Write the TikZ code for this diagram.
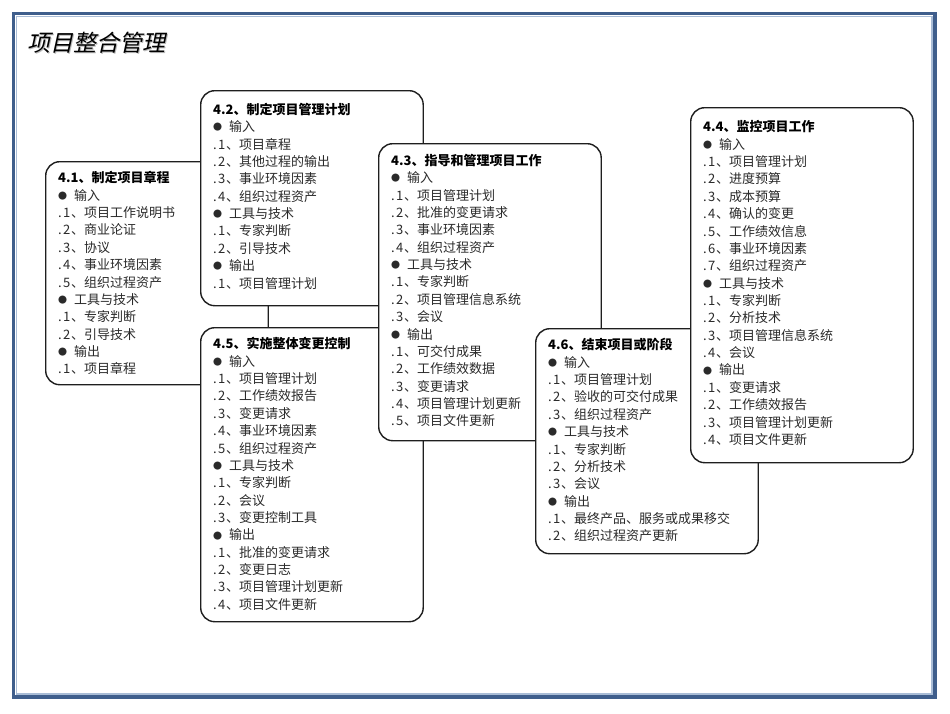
\documentclass[tikz,border=0pt]{standalone}
\usepackage{fontspec}
\newfontfamily\cjk{Noto Sans CJK SC}
\newfontfamily\cjkslant[FakeSlant=0.22]{Noto Sans CJK SC}
\usetikzlibrary{calc}
\definecolor{frameDark}{HTML}{3F5E8C}
\definecolor{frameLight}{HTML}{A9BCD6}
\definecolor{boxLine}{HTML}{1E1E1E}
\definecolor{itemText}{HTML}{2A2A2A}
\tikzset{
  pbox/.style={draw=boxLine, line width=1.4pt, fill=white, rounded corners=14pt,
    inner sep=0pt, minimum width=222.5pt, anchor=north west},
  ptext/.style={anchor=base west, inner sep=0pt, font=\cjk\fontsize{13}{15}\selectfont, text=itemText},
  maintitle/.style={anchor=west, inner sep=0pt, font=\cjkslant\fontsize{23}{25}\selectfont},
}
\newcommand\bul[1]{\makebox[16pt][l]{\raisebox{0.8pt}{\fontsize{9}{9}\selectfont ●}}#1}
\newcommand\itm[2]{\makebox[5pt][l]{.}\makebox[8pt][l]{#1}、#2}
\newcommand\ttl[1]{\textbf{\color{black}#1}}
\newcommand\pbx[6]{%
  \node[pbox, minimum height=#4] (#1) at (#2,#3) {};
  \foreach \ln [count=\k] in {#6}{
    \node[ptext] (#1-\k) at ($(#1.north west)+(13,{#5+4.8+(\k-1)*17.37})$) {\ln};
  }%
}
\begin{document}
\begin{tikzpicture}[x=1pt,y=-1pt]
\useasboundingbox (0,0) rectangle (950,713);
\fill[white] (0,0) rectangle (950,713);
% frame
\draw[frameDark, line width=3.2pt] (13.8,13.8) rectangle (935,697);
\draw[frameLight, line width=1.5pt] (16.6,16.6) rectangle (932.2,694.2);
% main title
\node[maintitle, text=gray!55] (titleshadow) at (28.6,44) {项目整合管理};
\node[maintitle] (title) at (27,42.5) {项目整合管理};
% boxes
\pbx{p41}{45}{161}{223}{17}{%
  {\ttl{4.1、制定项目章程}},{\bul{输入}},{\itm{1}{项目工作说明书}},{\itm{2}{商业论证}},{\itm{3}{协议}},
  {\itm{4}{事业环境因素}},{\itm{5}{组织过程资产}},{\bul{工具与技术}},{\itm{1}{专家判断}},{\itm{2}{引导技术}},
  {\bul{输出}},{\itm{1}{项目章程}}}
\pbx{p42}{200}{90}{215}{19.5}{%
  {\ttl{4.2、制定项目管理计划}},{\bul{输入}},{\itm{1}{项目章程}},{\itm{2}{其他过程的输出}},{\itm{3}{事业环境因素}},
  {\itm{4}{组织过程资产}},{\bul{工具与技术}},{\itm{1}{专家判断}},{\itm{2}{引导技术}},{\bul{输出}},{\itm{1}{项目管理计划}}}
\pbx{p45}{200}{327}{294}{17}{%
  {\ttl{4.5、实施整体变更控制}},{\bul{输入}},{\itm{1}{项目管理计划}},{\itm{2}{工作绩效报告}},{\itm{3}{变更请求}},
  {\itm{4}{事业环境因素}},{\itm{5}{组织过程资产}},{\bul{工具与技术}},{\itm{1}{专家判断}},{\itm{2}{会议}},
  {\itm{3}{变更控制工具}},{\bul{输出}},{\itm{1}{批准的变更请求}},{\itm{2}{变更日志}},{\itm{3}{项目管理计划更新}},
  {\itm{4}{项目文件更新}}}
\pbx{p43}{378}{143}{297}{17.5}{%
  {\ttl{4.3、指导和管理项目工作}},{\bul{输入}},{\itm{1}{项目管理计划}},{\itm{2}{批准的变更请求}},{\itm{3}{事业环境因素}},
  {\itm{4}{组织过程资产}},{\bul{工具与技术}},{\itm{1}{专家判断}},{\itm{2}{项目管理信息系统}},{\itm{3}{会议}},
  {\bul{输出}},{\itm{1}{可交付成果}},{\itm{2}{工作绩效数据}},{\itm{3}{变更请求}},{\itm{4}{项目管理计划更新}},
  {\itm{5}{项目文件更新}}}
\pbx{p46}{535}{328}{225}{17}{%
  {\ttl{4.6、结束项目或阶段}},{\bul{输入}},{\itm{1}{项目管理计划}},{\itm{2}{验收的可交付成果}},{\itm{3}{组织过程资产}},
  {\bul{工具与技术}},{\itm{1}{专家判断}},{\itm{2}{分析技术}},{\itm{3}{会议}},{\bul{输出}},
  {\itm{1}{最终产品、服务或成果移交}},{\itm{2}{组织过程资产更新}}}
\pbx{p44}{690}{107}{355}{20}{%
  {\ttl{4.4、监控项目工作}},{\bul{输入}},{\itm{1}{项目管理计划}},{\itm{2}{进度预算}},{\itm{3}{成本预算}},
  {\itm{4}{确认的变更}},{\itm{5}{工作绩效信息}},{\itm{6}{事业环境因素}},{\itm{7}{组织过程资产}},{\bul{工具与技术}},
  {\itm{1}{专家判断}},{\itm{2}{分析技术}},{\itm{3}{项目管理信息系统}},{\itm{4}{会议}},{\bul{输出}},
  {\itm{1}{变更请求}},{\itm{2}{工作绩效报告}},{\itm{3}{项目管理计划更新}},{\itm{4}{项目文件更新}}}
\end{tikzpicture}
\end{document}
